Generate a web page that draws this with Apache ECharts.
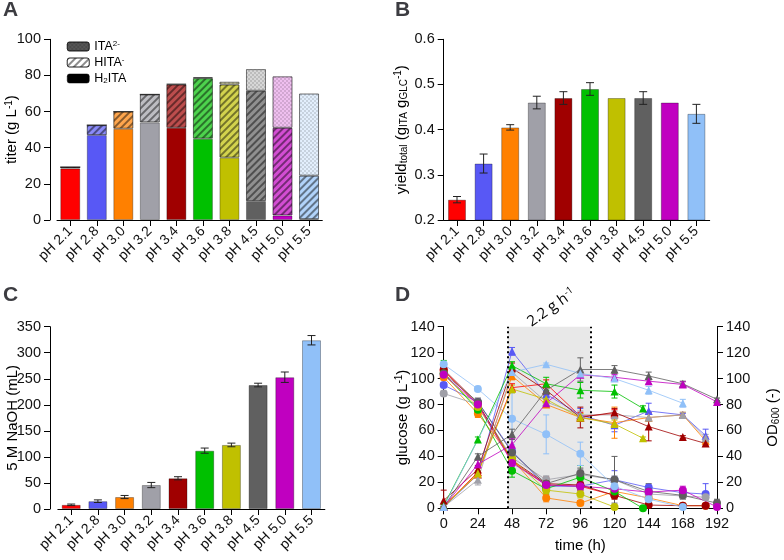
<!DOCTYPE html>
<html>
<head>
<meta charset="utf-8">
<script src="https://cdn.jsdelivr.net/npm/echarts@6.0.0/dist/echarts.min.js"></script>
<style>
html, body { margin: 0; padding: 0; background: #fff; }
#chart { width: 784px; height: 560px; }
</style>
</head>
<body>
<div id="chart"></div>
<script>
// categories (pH set-points)
var categories = ['pH 2.1', 'pH 2.8', 'pH 3.0', 'pH 3.2', 'pH 3.4', 'pH 3.6', 'pH 3.8', 'pH 4.5', 'pH 5.0', 'pH 5.5'];
var phColors = ['#ff0000', '#5858f5', '#ff8000', '#a0a0a8', '#a00000', '#00c000', '#c0c000', '#606060', '#c000c0', '#90c0f8'];

// A: titer split by species (g/L)
var h2ita = [28.5, 47, 50.5, 54, 51, 45, 34.5, 10.5, 2.5, 0.5];
var hita  = [0.8, 5.5, 9.5, 15.5, 24, 33.5, 40.5, 61, 48.5, 24];
var ita   = [0, 0, 0, 0, 0.3, 0.5, 1.5, 12, 28.5, 45.5];

// B: total yield (g ITA / g glucose)
var yieldTotal = [0.245, 0.325, 0.405, 0.46, 0.47, 0.49, 0.47, 0.47, 0.46, 0.435];
var yieldErr   = [0.007, 0.021, 0.006, 0.014, 0.014, 0.014, 0, 0.014, 0, 0.021];

// C: 5 M NaOH consumed (mL)
var naoh    = [8, 15, 23, 46, 59, 112, 123, 238, 253, 324];
var naohErr = [1.5, 2.5, 3, 5, 3, 5, 3.5, 3.5, 10, 9];

// D: [time h, value, sd]
var glc21 = [[0,106,2],[24,80,3],[48,36,3],[72,18,3],[96,17,3],[120,10,2]];
var od21  = [[0,1,0.5],[24,28,3],[48,93,3],[72,96,3],[96,71,3],[120,73,3]];
var glc28 = [[0,95,2],[24,82,2],[48,44,3],[72,17,2],[96,17,3],[120,22,7],[144,16,2],[168,12,2],[184,11,8]];
var od28  = [[0,1,0.5],[24,26,2],[48,121,3],[72,88,2],[96,72,5],[120,64,5],[144,75,6],[168,72,1],[184,56,5]];
var glc30 = [[0,101,2],[24,73,3],[48,38,8],[72,8,3],[96,4,2],[120,13,3],[144,8,2],[168,2,1],[184,2,1]];
var od30  = [[0,2,1],[24,26,2],[48,102,3],[72,80,2],[96,70,3],[120,66,12],[144,70,3],[168,72,2],[184,52,3]];
var glc32 = [[0,88.5,2],[24,80,3],[48,39,3],[72,22,3],[96,26,4],[120,22,3],[144,11,2],[168,9.5,2],[184,8.5,2]];
var od32  = [[0,1,0.5],[24,22,4],[48,105,4],[72,82,3],[96,72,3],[120,72,3],[144,70,3],[168,72,2],[184,54,3]];
var glc34 = [[0,107,2],[24,81,3],[48,37,3],[72,19,5],[96,18,3],[120,10,3],[144,2.5,1],[168,2,1],[184,2,1]];
var od34  = [[0,6,8],[24,30,3],[48,108,4],[72,91,3],[96,70,8],[120,74,3],[144,63,11],[168,55,1],[184,50,2]];
var glc36 = [[0,104,10],[24,76,5],[48,29,5],[72,15,4],[96,24,9],[120,13,5],[140,0,0.5]];
var od36  = [[0,2,1],[24,53,2],[48,110,3],[72,96,5],[96,91,6],[120,90,5],[140,77,2]];
var glc38 = [[0,103,2],[24,78,3],[48,38,3],[72,14,3],[96,11,3],[120,1,1]];
var od38  = [[0,1,0.5],[24,27,2],[48,92,3],[72,84,3],[96,70,3],[120,65,3],[140,54,1]];
var glc45 = [[0,104,2],[24,82,3],[48,43,3],[72,19,3],[96,27,4],[120,22,18],[144,13,6],[168,10,3],[192,4,3]];
var od45  = [[0,1,0.5],[24,40,2],[48,57,4],[72,91,3],[96,107,9],[120,107,3],[144,102,3],[168,96,2],[192,84,1]];
var glc50 = [[0,103,2],[24,80,3],[48,35,3],[72,18,3],[96,17,3],[120,15,3],[144,12.5,3],[168,14,3],[192,1,1]];
var od50  = [[0,1,0.5],[24,34,3],[48,49,5],[72,81,3],[96,103,2],[120,101,2],[144,98,2],[168,95.5,2],[192,82,1]];
var glc55 = [[0,111,2],[24,92,2],[48,69,20],[72,57,15],[96,42,9],[120,17,5],[144,7,2],[168,1,1]];
var od55  = [[0,1,1],[48,105,3],[72,111,1],[96,104,2],[120,100,2],[144,91,3],[168,81,3]];

var glcSets = [glc21, glc28, glc30, glc32, glc34, glc36, glc38, glc45, glc50, glc55];
var odSets  = [od21, od28, od30, od32, od34, od36, od38, od45, od50, od55];

var FONT = 'Liberation Sans, Arial, sans-serif';

function mix(hex, t) {
    var r = parseInt(hex.substr(1, 2), 16), g = parseInt(hex.substr(3, 2), 16), b = parseInt(hex.substr(5, 2), 16);
    r = Math.round(r + (255 - r) * t); g = Math.round(g + (255 - g) * t); b = Math.round(b + (255 - b) * t);
    return 'rgb(' + r + ',' + g + ',' + b + ')';
}

var stripeDecal = { symbol: 'rect', symbolSize: 1, dashArrayX: [1, 0], dashArrayY: [1.5, 3], rotation: -Math.PI / 4, color: 'rgba(0,0,0,0.45)' };
var checkDecal  = { symbol: 'rect', symbolSize: 1, dashArrayX: [[2, 2], [0, 2, 2, 0]], dashArrayY: [2, 0], color: 'rgba(0,0,0,0.12)' };

function errorSeries(data, xi, yi, color, cap, z) {
    return {
        type: 'custom', xAxisIndex: xi, yAxisIndex: yi, data: data, silent: true, z: z || 3,
        encode: { x: 0, y: 1 },
        renderItem: function (params, api) {
            var e = api.value(2);
            if (!e) return null;
            var x = api.value(0), v = api.value(1);
            var p1 = api.coord([x, v + e]), p2 = api.coord([x, Math.max(0, v - e)]);
            var st = { stroke: color, lineWidth: 1, fill: null };
            return { type: 'group', children: [
                { type: 'line', shape: { x1: p1[0], y1: p1[1], x2: p2[0], y2: p2[1] }, style: st },
                { type: 'line', shape: { x1: p1[0] - cap, y1: p1[1], x2: p1[0] + cap, y2: p1[1] }, style: st },
                { type: 'line', shape: { x1: p2[0] - cap, y1: p2[1], x2: p2[0] + cap, y2: p2[1] }, style: st }
            ]};
        }
    };
}

var axisLine = { show: true, lineStyle: { color: '#000', width: 1 } };
var axisTick = { show: true, length: 6, lineStyle: { color: '#000', width: 1 } };

function catX(gi) {
    return {
        type: 'category', gridIndex: gi, data: categories,
        axisLine: axisLine, axisTick: { show: true, length: 6, alignWithLabel: true, lineStyle: { color: '#000' } },
        axisLabel: { rotate: 45, fontSize: 14, color: '#111', fontFamily: FONT, margin: 9, interval: 0 }
    };
}
function valY(gi, min, max, step, name, gap, offset, fmt) {
    return {
        type: 'value', gridIndex: gi, min: min, max: max, interval: step, offset: offset || 0,
        name: name, nameLocation: 'middle', nameGap: gap, nameRotate: 90, nameMoveOverlap: false,
        nameTextStyle: { fontSize: 15, color: '#000', fontFamily: FONT, rich: {
            sub: { fontSize: 10, fontFamily: FONT, color: '#000', verticalAlign: 'bottom', padding: [6, 0, 0, 0] },
            sup: { fontSize: 10, fontFamily: FONT, color: '#000', verticalAlign: 'top', padding: [0, 0, 6, 0] }
        } },
        axisLine: axisLine, axisTick: axisTick, splitLine: { show: false },
        axisLabel: { fontSize: 14.5, color: '#111', fontFamily: FONT, margin: 9, formatter: fmt }
    };
}

var itaNames = { 'ITA2-': 'ITA{sup|2-}', 'HITA-': 'HITA{sup|-}', 'H2ITA': 'H{sub|2}ITA' };

var series = [];
series.push({
    name: 'H2ITA', type: 'bar', xAxisIndex: 0, yAxisIndex: 0, stack: 'titer', barWidth: 20,
    itemStyle: { color: '#000', borderColor: 'rgba(0,0,0,0.3)', borderWidth: 1 },
    data: h2ita.map(function (v, i) { return { value: v, itemStyle: { color: phColors[i] } }; })
});
series.push({
    name: 'HITA-', type: 'bar', xAxisIndex: 0, yAxisIndex: 0, stack: 'titer', barWidth: 20,
    itemStyle: { color: '#fff', decal: stripeDecal, borderColor: 'rgba(0,0,0,0.3)', borderWidth: 1 },
    data: hita.map(function (v, i) { return { value: v, itemStyle: { color: mix(phColors[i], 0.3), decal: stripeDecal } }; })
});
series.push({
    name: 'ITA2-', type: 'bar', xAxisIndex: 0, yAxisIndex: 0, stack: 'titer', barWidth: 20,
    itemStyle: { color: '#444', decal: checkDecal, borderColor: 'rgba(0,0,0,0.3)', borderWidth: 1 },
    data: ita.map(function (v, i) { return { value: v, itemStyle: { color: mix(phColors[i], 0.75), decal: checkDecal } }; })
});

// B
series.push({
    type: 'bar', xAxisIndex: 1, yAxisIndex: 1, barWidth: 18,
    itemStyle: { borderColor: 'rgba(0,0,0,0.3)', borderWidth: 1 },
    data: yieldTotal.map(function (v, i) { return { value: v, itemStyle: { color: phColors[i] } }; })
});
series.push(errorSeries(yieldTotal.map(function (v, i) { return [i, v, yieldErr[i]]; }), 1, 1, '#222', 4));

// C
series.push({
    type: 'bar', xAxisIndex: 2, yAxisIndex: 2, barWidth: 19,
    itemStyle: { borderColor: 'rgba(0,0,0,0.3)', borderWidth: 1 },
    data: naoh.map(function (v, i) { return { value: v, itemStyle: { color: phColors[i] } }; })
});
series.push(errorSeries(naoh.map(function (v, i) { return [i, v, naohErr[i]]; }), 2, 2, '#222', 4));

// D: shaded feeding window
series.push({
    type: 'line', xAxisIndex: 3, yAxisIndex: 3, data: [], z: 1, silent: true,
    markArea: {
        silent: true, itemStyle: { color: '#e8e8e8' },
        label: { show: true, position: 'top', rotate: 35, distance: 7, offset: [9, 0], fontSize: 15, color: '#000', fontFamily: 'Open Sans',
            formatter: '2.2 g h{sup|-1}', rich: { sup: { fontSize: 10, fontFamily: 'Open Sans', verticalAlign: 'top', padding: [0, 0, 7, 0] } } },
        data: [[{ xAxis: 45 }, { xAxis: 103 }]]
    },
    markLine: {
        silent: true, symbol: 'none', label: { show: false },
        lineStyle: { color: '#000', type: [2, 3], width: 2 },
        data: [{ xAxis: 45 }, { xAxis: 103 }]
    }
});

glcSets.forEach(function (set, i) {
    series.push({
        type: 'line', xAxisIndex: 3, yAxisIndex: 3, data: set, symbol: 'circle', symbolSize: 8,
        lineStyle: { width: 0.8, color: phColors[i] }, itemStyle: { color: phColors[i] }, z: 4
    });
    series.push(errorSeries(set, 3, 3, phColors[i], 3, 3));
});
odSets.forEach(function (set, i) {
    series.push({
        type: 'line', xAxisIndex: 3, yAxisIndex: 4, data: set, symbol: 'triangle', symbolSize: 8,
        lineStyle: { width: 0.8, color: phColors[i] }, itemStyle: { color: phColors[i] }, z: 4
    });
    series.push(errorSeries(set, 3, 4, phColors[i], 3, 3));
});

var chart = echarts.init(document.getElementById('chart'));
var option = {
    animation: false,
    backgroundColor: '#fff',
    textStyle: { fontFamily: FONT },
    title: [
        { text: 'A', left: 3, top: 0, padding: 0, textStyle: { fontSize: 21, fontWeight: 'bold', fontFamily: FONT } },
        { text: 'B', left: 395, top: 0, padding: 0, textStyle: { fontSize: 21, fontWeight: 'bold', fontFamily: FONT } },
        { text: 'C', left: 3, top: 285, padding: 0, textStyle: { fontSize: 21, fontWeight: 'bold', fontFamily: FONT } },
        { text: 'D', left: 395, top: 285, padding: 0, textStyle: { fontSize: 21, fontWeight: 'bold', fontFamily: FONT } }
    ],
    legend: {
        orient: 'vertical', left: 62, top: 35, itemWidth: 22, itemHeight: 9, itemGap: 3,
        selectedMode: false,
        data: [
            { name: 'ITA2-', itemStyle: { color: '#555', decal: checkDecal, borderColor: '#000', borderWidth: 0.5 } },
            { name: 'HITA-', itemStyle: { color: '#fff', decal: stripeDecal, borderColor: '#000', borderWidth: 0.5 } },
            { name: 'H2ITA', itemStyle: { color: '#000', borderColor: '#000', borderWidth: 0.5 } }
        ],
        formatter: function (n) { return itaNames[n]; },
        textStyle: { fontSize: 12.5, color: '#000', fontFamily: FONT, rich: {
            sub: { fontSize: 8, fontFamily: FONT, color: '#000', verticalAlign: 'bottom', padding: [5, 0, 0, 0] },
            sup: { fontSize: 8, fontFamily: FONT, color: '#000', verticalAlign: 'top', padding: [0, 0, 5, 0] }
        } }
    },
    grid: [
        { left: 57, top: 39.3, width: 265.3, height: 180.7, outerBoundsMode: 'none' },
        { left: 443.7, top: 39.3, width: 266, height: 180.7, outerBoundsMode: 'none' },
        { left: 57.85, top: 326.7, width: 267, height: 182.3, outerBoundsMode: 'none' },
        { left: 443.7, top: 326.7, width: 273.3, height: 181.6, outerBoundsMode: 'none' }
    ],
    xAxis: [
        catX(0), catX(1), catX(2),
        {
            type: 'value', gridIndex: 3, min: 0, max: 192, interval: 24,
            name: 'time (h)', nameLocation: 'middle', nameGap: 30,
            nameTextStyle: { fontSize: 15, color: '#000', fontFamily: FONT },
            axisLine: axisLine, axisTick: axisTick, splitLine: { show: false },
            axisLabel: { fontSize: 14.5, color: '#111', fontFamily: FONT, margin: 8 }
        }
    ],
    yAxis: [
        valY(0, 0, 100, 20, 'titer (g L{sup|-1})', 30, 7),
        valY(1, 0.2, 0.6, 0.1, 'yield{sub|total} (g{sub|ITA} g{sub|GLC}{sup|-1})', 34, 0, function (v) { return v.toFixed(1); }),
        valY(2, 0, 350, 50, '5 M NaOH (mL)', 30, 7.85),
        valY(3, 0, 140, 20, 'glucose (g L{sup|-1})', 33, 0),
        (function () {
            var a = valY(3, 0, 140, 20, 'OD{sub|600} (-)', 48, 0);
            a.position = 'right';
            return a;
        })()
    ],
    series: series
};
chart.setOption(option);
</script>
</body>
</html>
